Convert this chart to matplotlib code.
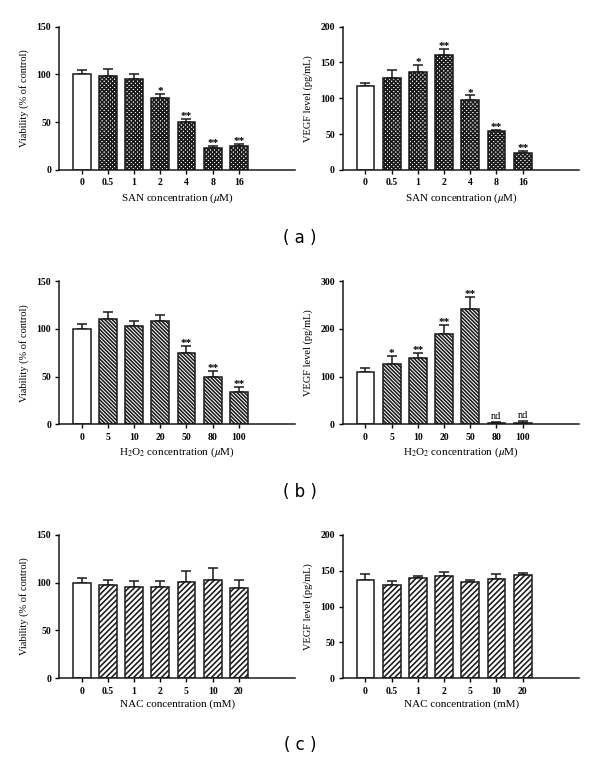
import matplotlib
matplotlib.use('Agg')
import matplotlib.pyplot as plt
import numpy as np

plt.rcParams['font.family'] = ['Liberation Serif', 'DejaVu Serif']
plt.rcParams['mathtext.fontset'] = 'stix'
plt.rcParams['hatch.linewidth'] = 1.15

# (a) SAN
san_conc = ['0', '0.5', '1', '2', '4', '8', '16']
san_via = [100, 98, 95, 75, 50, 23, 25]
san_via_err = [5, 8, 5, 5, 3, 2, 2]
san_via_sig = ['', '', '', '*', '**', '**', '**']
san_vegf = [117, 129, 137, 161, 98, 55, 24]
san_vegf_err = [5, 11, 9, 8, 6, 1, 3]
san_vegf_sig = ['', '', '*', '**', '*', '**', '**']

# (b) H2O2
h2o2_conc = ['0', '5', '10', '20', '50', '80', '100']
h2o2_via = [100, 110, 103, 108, 75, 50, 34]
h2o2_via_err = [5, 8, 5, 7, 7, 6, 5]
h2o2_via_sig = ['', '', '', '', '**', '**', '**']
h2o2_vegf = [109, 126, 139, 190, 242, 2, 4]
h2o2_vegf_err = [10, 17, 11, 18, 25, 3, 4]
h2o2_vegf_sig = ['', '*', '**', '**', '**', 'nd', 'nd']

# (c) NAC
nac_conc = ['0', '0.5', '1', '2', '5', '10', '20']
nac_via = [100, 98, 95, 95, 101, 103, 94]
nac_via_err = [5, 5, 7, 7, 11, 12, 9]
nac_vegf = [137, 130, 140, 143, 134, 139, 144]
nac_vegf_err = [8, 6, 2, 5, 3, 7, 3]
nac_vegf_sig = [''] * 7

fig = plt.figure(figsize=(6, 7.62), dpi=100)


def panel(pos, cats, vals, errs, sig, ymax, ystep, ylabel, xlabel, hatch):
    ax = fig.add_axes(pos)
    x = np.arange(len(cats))
    hatches = [''] + [hatch] * (len(cats) - 1)
    for i in range(len(cats)):
        ax.bar(x[i], vals[i], width=0.68, color='white', edgecolor='#1a1a1a',
               linewidth=1.1, hatch=hatches[i], zorder=2)
    ax.errorbar(x, vals, yerr=[np.zeros(len(vals)), errs], fmt='none',
                ecolor='#1a1a1a', elinewidth=1.1, capsize=3.5, capthick=1.1, zorder=1)
    for i, s in enumerate(sig):
        if not s:
            continue
        top = vals[i] + errs[i]
        if s == 'nd':
            ax.text(x[i], top + ymax * 0.005, s, ha='center', va='bottom', fontsize=7.5)
        else:
            ax.text(x[i], top - ymax * 0.015, s, ha='center', va='bottom',
                    fontsize=8, fontweight='bold')
    ax.set_xlim(-0.85, 8.15)
    ax.set_ylim(0, ymax)
    ax.set_yticks(np.arange(0, ymax + 1, ystep))
    ax.set_xticks(x)
    ax.set_xticklabels(cats)
    for sp in ['top', 'right']:
        ax.spines[sp].set_visible(False)
    for sp in ['left', 'bottom']:
        ax.spines[sp].set_linewidth(1.1)
        ax.spines[sp].set_color('#1a1a1a')
    ax.tick_params(direction='out', length=3, width=1, labelsize=7, pad=3)
    for lab in ax.get_xticklabels() + ax.get_yticklabels():
        lab.set_fontweight('bold')
    ax.set_ylabel(ylabel, fontsize=7.5, labelpad=5)
    ax.set_xlabel(xlabel, fontsize=8, labelpad=3)
    return ax


w = 0.393
h = 0.188
lx = 0.099
rx = 0.572
rows = [0.777, 0.443, 0.110]
um = r'($\mu$M)'

panel([lx, rows[0], w, h], san_conc, san_via, san_via_err, san_via_sig, 150, 50,
      'Viability (% of control)', 'SAN concentration ' + um, 'xxxxxxxx')
panel([rx, rows[0], w, h], san_conc, san_vegf, san_vegf_err, san_vegf_sig, 200, 50,
      'VEGF level (pg/mL)', 'SAN concentration ' + um, 'xxxxxxxx')
panel([lx, rows[1], w, h], h2o2_conc, h2o2_via, h2o2_via_err, h2o2_via_sig, 150, 50,
      'Viability (% of control)', r'H$_2$O$_2$ concentration ' + um, '\\' * 9)
panel([rx, rows[1], w, h], h2o2_conc, h2o2_vegf, h2o2_vegf_err, h2o2_vegf_sig, 300, 100,
      'VEGF level (pg/mL)', r'H$_2$O$_2$ concentration ' + um, '\\' * 9)
panel([lx, rows[2], w, h], nac_conc, nac_via, nac_via_err, [''] * 7, 150, 50,
      'Viability (% of control)', 'NAC concentration (mM)', '//////')
panel([rx, rows[2], w, h], nac_conc, nac_vegf, nac_vegf_err, nac_vegf_sig, 200, 50,
      'VEGF level (pg/mL)', 'NAC concentration (mM)', '//////')

for lab, yy in [('( a )', 1 - 238 / 762), ('( b )', 1 - 492 / 762), ('( c )', 1 - 745 / 762)]:
    fig.text(0.5, yy, lab, ha='center', va='center', fontsize=12,
             family=['DejaVu Sans'])

fig.savefig('out.png', dpi=100)
